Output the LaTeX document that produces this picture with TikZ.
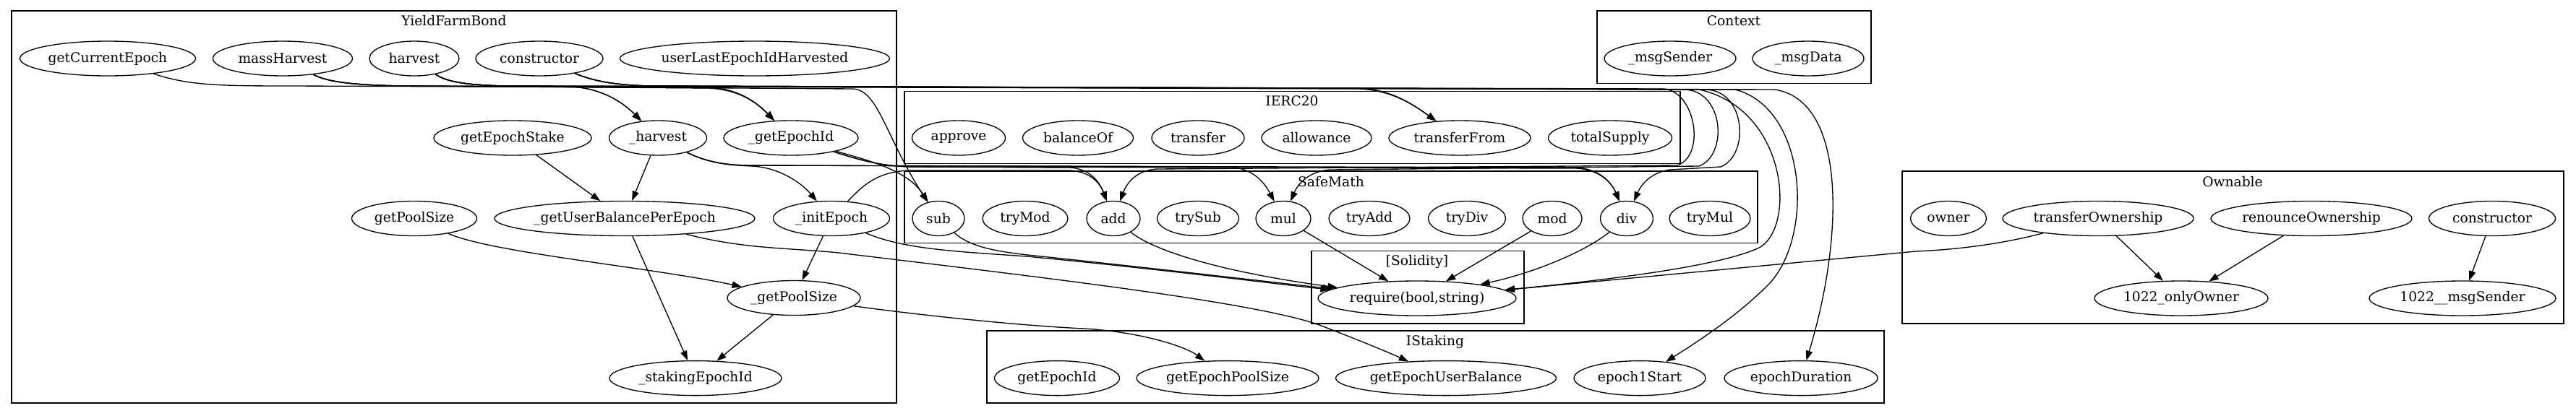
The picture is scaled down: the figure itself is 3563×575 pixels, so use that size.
\documentclass[tikz,border=0pt]{standalone}
\usepackage{fontspec}
\setmainfont{DejaVu Serif}
\usetikzlibrary{shapes.geometric,arrows.meta}
\tikzset{
  fnode/.style={draw, ellipse, line width=1pt, minimum height=36pt, inner sep=0pt,
    minimum width={#1*0.75pt}, font=\fontsize{14}{16}\selectfont},
  cluster/.style={draw, line width=1pt},
  ctitle/.style={font=\fontsize{14}{16}\selectfont, inner sep=0pt},
  call/.style={line width=1pt, -{Triangle[length=10pt,width=7pt]}},
}
\begin{document}
\begin{tikzpicture}[x=0.75pt, y=-0.75pt]
\fill[white] (0,0) rectangle (3563,575);
\useasboundingbox (0,0) rectangle (3563,575);

% clusters
\draw[cluster] (16,15) rectangle (1240,558);
\node[ctitle] (tYFB) at (628,29) {YieldFarmBond};
\draw[cluster] (2209,15) rectangle (2588,115.5);
\node[ctitle] (tCtx) at (2398,29) {Context};
\draw[cluster] (1251,126.5) rectangle (2324,226.6);
\node[ctitle] (tIERC) at (1787,140) {IERC20};
\draw[cluster] (1251,237) rectangle (2431,336.6);
\node[ctitle] (tSM) at (1841,252) {SafeMath};
\draw[cluster] (1814,347.6) rectangle (2108,448);
\node[ctitle] (tSol) at (1960,362) {[Solidity]};
\draw[cluster] (1365,458) rectangle (2606,558);
\node[ctitle] (tISt) at (1985,473) {IStaking};
\draw[cluster] (2631,237) rectangle (3546,448);
\node[ctitle] (tOwn) at (3088,252) {Ownable};

% YieldFarmBond
\node[fnode=243] (gce) at (149,81) {getCurrentEpoch};
\node[fnode=193] (mh) at (391,81) {massHarvest};
\node[fnode=124] (hvst) at (573,81) {harvest};
\node[fnode=176] (cons) at (746,81) {constructor};
\node[fnode=373] (ulh) at (1044,81) {userLastEpochIdHarvested};
\node[fnode=218] (ges) at (709,191) {getEpochStake};
\node[fnode=135] (hv) at (910,191) {\_harvest};
\node[fnode=186] (gei) at (1094,191) {\_getEpochId};
\node[fnode=173] (gp) at (573,302.5) {getPoolSize};
\node[fnode=360] (gub) at (864,302.5) {\_getUserBalancePerEpoch};
\node[fnode=161] (ie) at (1150,302.5) {\_initEpoch};
\node[fnode=184] (gps) at (1098,412.5) {\_getPoolSize};
\node[fnode=238] (sei) at (962,523.6) {\_stakingEpochId};

% Context
\node[fnode=182] (cms) at (2310,81) {\_msgSender};
\node[fnode=154] (cmd) at (2501,81) {\_msgData};

% IERC20
\node[fnode=129] (appr) at (1326,191) {approve};
\node[fnode=153] (bal) at (1491,191) {balanceOf};
\node[fnode=128] (trf) at (1657,191) {transfer};
\node[fnode=152] (allw) at (1821,191) {allowance};
\node[fnode=196] (tf) at (2019,191) {transferFrom};
\node[fnode=171] (tsup) at (2227,191) {totalSupply};

% SafeMath
\node[fnode=72] (sub) at (1298,302.5) {sub};
\node[fnode=118] (tmod) at (1418,302.5) {tryMod};
\node[fnode=74] (add) at (1540,302.5) {add};
\node[fnode=113] (tsub) at (1657,302.5) {trySub};
\node[fnode=76] (mul) at (1775,302.5) {mul};
\node[fnode=112] (tadd) at (1894,302.5) {tryAdd};
\node[fnode=107] (tdiv) at (2029,302.5) {tryDiv};
\node[fnode=82] (mod) at (2147,302.5) {mod};
\node[fnode=73] (div) at (2250,302.5) {div};
\node[fnode=112] (tmul) at (2365,302.5) {tryMul};

% Solidity
\node[fnode=274] (req) at (1960,413) {require(bool,string)};

% IStaking
\node[fnode=173] (sgei) at (1462,523.6) {getEpochId};
\node[fnode=252] (geps) at (1698,523.6) {getEpochPoolSize};
\node[fnode=305] (geub) at (2000,523.6) {getEpochUserBalance};
\node[fnode=182] (e1s) at (2268,523.6) {epoch1Start};
\node[fnode=212] (ed) at (2491,523.6) {epochDuration};

% Ownable
\node[fnode=105] (own) at (2695,302.5) {owner};
\node[fnode=264] (tow) at (2902,302.5) {transferOwnership};
\node[fnode=278] (ren) at (3197,302.5) {renounceOwnership};
\node[fnode=175] (ocons) at (3447,302.5) {constructor};
\node[fnode=240] (oo) at (3017,413) {1022\_onlyOwner};
\node[fnode=258] (oms) at (3406,413) {1022\_\_msgSender};

% ---- edges: top bundle
\draw[call] (gce) .. controls (260,118) and (300,119) .. (400,119) -- (980,121) .. controls (1020,123) and (1045,140) .. (gei);
\draw[call] (mh) .. controls (450,112) and (480,118) .. (560,119) -- (980,122) .. controls (1020,124) and (1045,140) .. (gei);
\draw[call] (mh) .. controls (450,112) and (480,118) .. (560,119) -- (790,120) .. controls (830,122) and (860,140) .. (hv);
\draw[call] (mh) .. controls (450,112) and (480,118) .. (560,119) -- (1180,123) .. controls (1215,125) and (1225,190) .. (sub);
\draw[call] (mh) .. controls (450,112) and (480,118) .. (560,119) -- (1880,123) .. controls (1925,125) and (1955,145) .. (tf);
\draw[call] (hvst) .. controls (615,112) and (640,118) .. (700,119) -- (790,120) .. controls (830,122) and (860,140) .. (hv);
\draw[call] (hvst) .. controls (615,112) and (640,118) .. (700,119) -- (980,121) .. controls (1020,123) and (1045,140) .. (gei);
\draw[call] (hvst) .. controls (615,112) and (640,118) .. (700,119) -- (1880,122) .. controls (1925,124) and (1955,145) .. (tf);
\draw[call] (hvst) .. controls (615,112) and (640,118) .. (700,119) -- (2300,123) .. controls (2345,125) and (2360,215) .. (2320,229) -- (1600,234) .. controls (1570,236) and (1558,255) .. (add);
\draw[call] (hvst) .. controls (615,112) and (640,118) .. (700,119) -- (2350,124) .. controls (2470,150) and (2485,310) .. (2435,342) .. controls (2380,370) and (2200,390) .. (req);
\draw[call] (cons) .. controls (820,112) and (850,118) .. (900,119) -- (2330,124) .. controls (2385,126) and (2390,215) .. (2350,230) -- (1840,235) .. controls (1810,237) and (1795,255) .. (mul);
\draw[call] (cons) .. controls (820,112) and (850,118) .. (900,119) -- (2360,124) .. controls (2415,126) and (2420,215) .. (2380,231) -- (2310,235) .. controls (2285,238) and (2270,255) .. (div);
\draw[call] (cons) .. controls (820,112) and (850,118) .. (900,119) -- (2400,124) .. controls (2500,150) and (2510,330) .. (2445,395) .. controls (2400,440) and (2345,475) .. (e1s);
\draw[call] (cons) .. controls (820,112) and (850,118) .. (900,119) -- (2455,124) .. controls (2555,140) and (2550,330) .. (ed);

% ---- _harvest
\draw[call] (hv) -- (gub);
\draw[call] (hv) .. controls (980,226) and (1010,229) .. (1040,230) .. controls (1080,232) and (1110,255) .. (ie);
\draw[call] (hv) .. controls (980,226) and (1010,229) .. (1040,229) -- (1700,231) .. controls (1735,233) and (1750,255) .. (mul);
\draw[call] (hv) .. controls (980,226) and (1010,229) .. (1040,229) -- (2180,232) .. controls (2215,234) and (2230,255) .. (div);

% ---- _getEpochId
\draw[call] (gei) .. controls (1200,222) and (1255,235) .. (sub);
\draw[call] (gei) .. controls (1190,222) and (1220,230) .. (1260,231) -- (1480,232) .. controls (1510,234) and (1522,255) .. (add);
\draw[call] (gei) .. controls (1190,222) and (1220,230) .. (1260,231) -- (2180,233) .. controls (2215,235) and (2230,255) .. (div);

% ---- _initEpoch
\draw[call] (ie) .. controls (1195,255) and (1215,237) .. (1260,236) -- (1480,236) .. controls (1510,238) and (1522,255) .. (add);
\draw[call] (ie) -- (gps);
\draw[call] (ie) .. controls (1250,345) and (1320,348) .. (1420,355) .. controls (1600,372) and (1780,395) .. (req);

% ---- SafeMath -> require
\draw[call] (sub) .. controls (1345,345) and (1390,350) .. (1450,356) .. controls (1600,372) and (1780,393) .. (req);
\draw[call] (add) .. controls (1600,350) and (1700,378) .. (req);
\draw[call] (mul) -- (req);
\draw[call] (mod) -- (req);
\draw[call] (div) .. controls (2190,350) and (2120,378) .. (req);

% ---- others
\draw[call] (tow) .. controls (2780,335) and (2720,345) .. (2650,348) -- (req);
\draw[call] (gub) .. controls (1030,345) and (1090,343) .. (1160,350) .. controls (1450,385) and (1750,420) .. (1830,452) .. controls (1890,475) and (1925,490) .. (geub);
\draw[call] (gps) .. controls (1300,440) and (1430,452) .. (1500,455) .. controls (1580,460) and (1640,480) .. (geps);
\draw[call] (gps) -- (sei);
\draw[call] (gub) -- (sei);
\draw[call] (gp) .. controls (680,350) and (900,370) .. (gps);
\draw[call] (ges) -- (gub);
\draw[call] (tow) -- (oo);
\draw[call] (ren) -- (oo);
\draw[call] (ocons) -- (oms);
\end{tikzpicture}
\end{document}
